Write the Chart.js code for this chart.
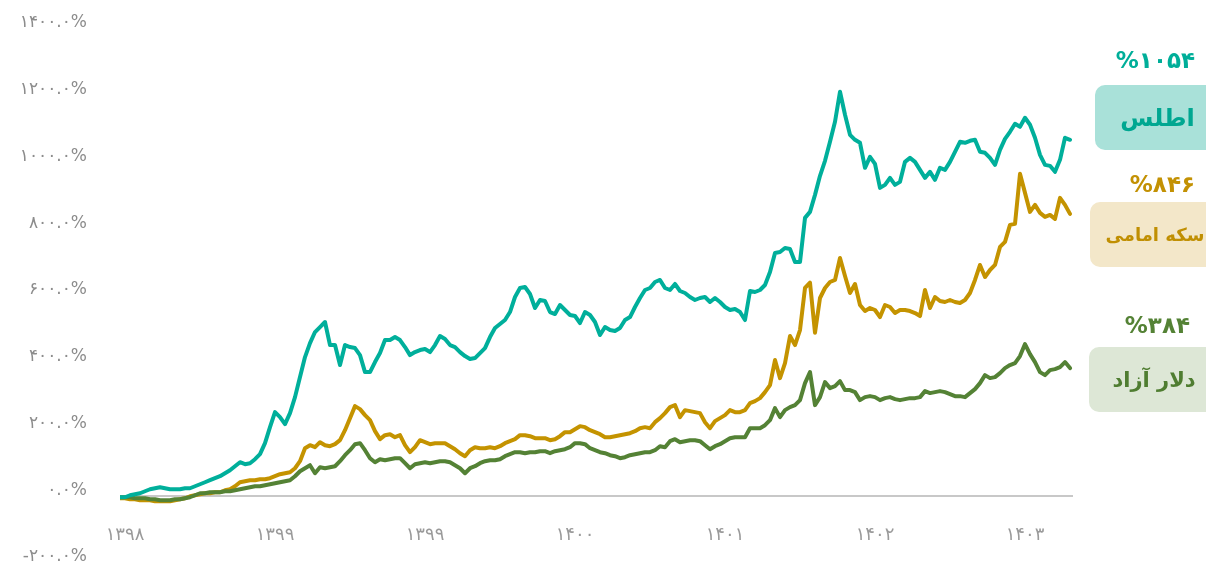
<!DOCTYPE html>
<html>
<head>
<meta charset="utf-8">
<script src="https://cdn.jsdelivr.net/npm/chart.js@4.4.1/dist/chart.umd.min.js"></script>
<style>
    body { margin: 0; background: #fff; }
    #wrap { position: relative; width: 1206px; height: 564px; overflow: hidden; }
    .pct { position: absolute; font-family: 'DejaVu Sans'; font-weight: bold; direction: ltr; text-align: right; }
    .box { position: absolute; border-radius: 10px; font-family: 'DejaVu Sans'; font-weight: bold; direction: rtl;
           display: flex; align-items: center; justify-content: center; }
</style>
</head>
<body>
<div id="wrap">
    <canvas id="lineChart" width="1206" height="564"></canvas>
    <div class="pct" id="pct0" style="right:11px; top:47px; font-size:23px; color:#00ae99;"></div>
    <div class="box" id="box0" style="left:1095px; top:85px; width:125px; height:65px; background:#a9e1d9; color:#00a791; font-size:24px;"></div>
    <div class="pct" id="pct1" style="right:11px; top:171px; font-size:23px; color:#c39103;"></div>
    <div class="box" id="box1" style="left:1090px; top:202px; width:130px; height:65px; background:#f3e7c9; color:#c08f02; font-size:18px;"></div>
    <div class="pct" id="pct2" style="right:16px; top:312px; font-size:23px; color:#548235;"></div>
    <div class="box" id="box2" style="left:1089px; top:347px; width:130px; height:65px; background:#dde7d6; color:#4f7d31; font-size:21px;"></div>
</div>
<script>
    // بازده تجمعی - درصد
    var atlas = [-3, -3, 3, 6, 9, 15, 21, 24, 27, 24, 21, 21, 21, 24, 24, 30, 36, 42, 48, 54,
        60, 69, 78, 90, 102, 96, 99, 111, 126, 159, 207, 252, 237, 216, 249, 297, 357, 417, 459, 492,
        507, 522, 453, 453, 393, 453, 447, 444, 423, 372, 372, 402, 429, 468, 468, 477, 468, 447, 423, 432,
        438, 441, 432, 453, 480, 471, 453, 447, 432, 420, 411, 414, 429, 444, 477, 504, 516, 528, 552, 597,
        624, 627, 606, 564, 588, 585, 552, 546, 573, 558, 543, 540, 519, 552, 543, 522, 483, 507, 498, 495,
        504, 528, 537, 567, 594, 618, 624, 642, 648, 624, 618, 636, 615, 609, 597, 588, 594, 597, 582, 594,
        582, 567, 558, 561, 552, 528, 615, 612, 618, 633, 672, 729, 732, 744, 741, 702, 702, 834, 852, 903,
        960, 1005, 1062, 1122, 1212, 1143, 1083, 1068, 1059, 984, 1017, 996, 924, 933, 954, 933, 942, 1002, 1014, 1002,
        978, 954, 972, 948, 984, 978, 1002, 1032, 1062, 1059, 1065, 1068, 1032, 1029, 1014, 993, 1038, 1071, 1092, 1116,
        1107, 1134, 1113, 1074, 1023, 993, 990, 972, 1008, 1074, 1068];

    var sekke = [-6, -6, -9, -9, -12, -12, -12, -15, -15, -15, -15, -12, -9, -6, 0, 3, 6, 9, 9, 12,
        12, 18, 21, 30, 42, 45, 48, 48, 51, 51, 54, 60, 66, 69, 72, 84, 105, 144, 153, 147,
        162, 153, 150, 156, 168, 198, 234, 270, 261, 243, 228, 195, 171, 183, 186, 177, 183, 153, 132, 147,
        168, 162, 156, 159, 159, 159, 150, 141, 129, 120, 138, 147, 144, 144, 147, 144, 150, 159, 165, 171,
        183, 183, 180, 174, 174, 174, 168, 171, 180, 192, 192, 201, 210, 207, 198, 192, 186, 177, 177, 180,
        183, 186, 189, 195, 204, 207, 204, 222, 234, 249, 267, 273, 237, 258, 255, 252, 249, 222, 204, 225,
        234, 243, 258, 252, 252, 258, 279, 285, 294, 312, 333, 408, 354, 399, 480, 453, 498, 624, 640, 490,
        594, 624, 642, 648, 714, 660, 609, 636, 573, 555, 564, 558, 537, 573, 567, 549, 558, 558, 555, 549,
        540, 618, 564, 597, 585, 582, 588, 582, 579, 588, 609, 648, 693, 657, 678, 693, 747, 762, 813, 816,
        966, 909, 852, 873, 849, 837, 843, 831, 894, 873, 846];

    var dolar = [-3, -3, -3, -6, -6, -6, -9, -9, -12, -12, -12, -9, -9, -6, -3, 3, 9, 9, 12, 12,
        12, 15, 15, 18, 21, 24, 27, 30, 30, 33, 36, 39, 42, 45, 48, 60, 75, 84, 93, 69,
        87, 84, 87, 90, 105, 123, 138, 156, 159, 138, 114, 102, 111, 108, 111, 114, 114, 99, 84, 96,
        99, 102, 99, 102, 105, 105, 102, 93, 84, 69, 84, 90, 99, 105, 108, 108, 111, 120, 126, 132,
        132, 129, 132, 132, 135, 135, 129, 135, 138, 141, 147, 159, 159, 156, 144, 138, 132, 129, 123, 120,
        114, 117, 123, 126, 129, 132, 132, 138, 150, 147, 165, 171, 162, 165, 168, 168, 165, 153, 141, 150,
        156, 165, 174, 177, 177, 177, 204, 204, 204, 213, 228, 264, 237, 258, 267, 273, 288, 339, 372, 273,
        297, 342, 324, 330, 345, 318, 318, 312, 288, 297, 300, 297, 288, 294, 297, 291, 288, 291, 294, 294,
        297, 315, 309, 312, 315, 312, 306, 300, 300, 297, 309, 321, 339, 363, 354, 357, 369, 384, 393, 399,
        420, 456, 426, 402, 372, 363, 378, 381, 387, 402, 384];

    var roozha = atlas.map(function (v, i) { return i; });

    var xTickAt = [1, 31, 61, 91, 121, 151, 181];
    var xTickLabels = ['۱۳۹۸', '۱۳۹۹', '۱۳۹۹', '۱۴۰۰', '۱۴۰۱', '۱۴۰۲', '۱۴۰۳'];

    var legendNames = ['اطلس', 'سکه امامی', 'دلار آزاد'];
    var legendPct = ['%۱۰۵۴', '%۸۴۶', '%۳۸۴'];

    var faDigits = ['۰', '۱', '۲', '۳', '۴', '۵', '۶', '۷', '۸', '۹'];
    function toFa(s) {
        return String(s).replace(/\d/g, function (d) { return faDigits[d]; });
    }

    for (var k = 0; k < legendNames.length; k++) {
        document.getElementById('pct' + k).textContent = legendPct[k];
        document.getElementById('box' + k).textContent = legendNames[k];
    }

    // برچسب سال‌ها داخل ناحیه نمودار
    var yearLabels = {
        id: 'yearLabels',
        afterDraw: function (chart) {
            var ctx = chart.ctx;
            var xs = chart.scales.x;
            ctx.save();
            ctx.font = '18px "DejaVu Sans"';
            ctx.fillStyle = '#9a9a9a';
            ctx.textAlign = 'center';
            ctx.textBaseline = 'middle';
            for (var i = 0; i < xTickAt.length; i++) {
                ctx.fillText(xTickLabels[i], xs.getPixelForValue(xTickAt[i]), 535);
            }
            ctx.restore();
        }
    };

    var ctxL = document.getElementById('lineChart').getContext('2d');
    new Chart(ctxL, {
        type: 'line',
        data: {
            labels: roozha,
            datasets: [{
                label: legendNames[0],
                data: atlas,
                borderColor: '#00af9b',
                borderWidth: 4
            }, {
                label: legendNames[2],
                data: dolar,
                borderColor: '#548235',
                borderWidth: 4
            }, {
                label: legendNames[1],
                data: sekke,
                borderColor: '#c49300',
                borderWidth: 4
            }]
        },
        options: {
            responsive: false,
            animation: false,
            events: [],
            layout: { padding: { top: 29, bottom: 1, right: 133, left: 0 } },
            elements: {
                point: { radius: 0 },
                line: { tension: 0, borderJoinStyle: 'round', borderCapStyle: 'round' }
            },
            plugins: {
                legend: { display: false },
                tooltip: { enabled: false }
            },
            scales: {
                x: {
                    type: 'linear',
                    display: false,
                    min: 0,
                    max: 190.6
                },
                y: {
                    min: -200,
                    max: 1400,
                    border: { display: false },
                    grid: {
                        drawTicks: false,
                        lineWidth: 2,
                        color: function (c) { return c.tick && c.tick.value === 0 ? '#c8c8c8' : 'rgba(0,0,0,0)'; }
                    },
                    ticks: {
                        stepSize: 200,
                        padding: 33,
                        labelOffset: -6,
                        color: '#8c8c8c',
                        font: { family: 'DejaVu Sans', size: 17 },
                        callback: function (v) { return toFa(v.toFixed(1)) + '%'; }
                    },
                    afterFit: function (scale) {
                        scale.width = 120;
                        scale.paddingTop = 0;
                        scale.paddingBottom = 0;
                    }
                }
            }
        },
        plugins: [yearLabels]
    });
</script>
</body>
</html>
